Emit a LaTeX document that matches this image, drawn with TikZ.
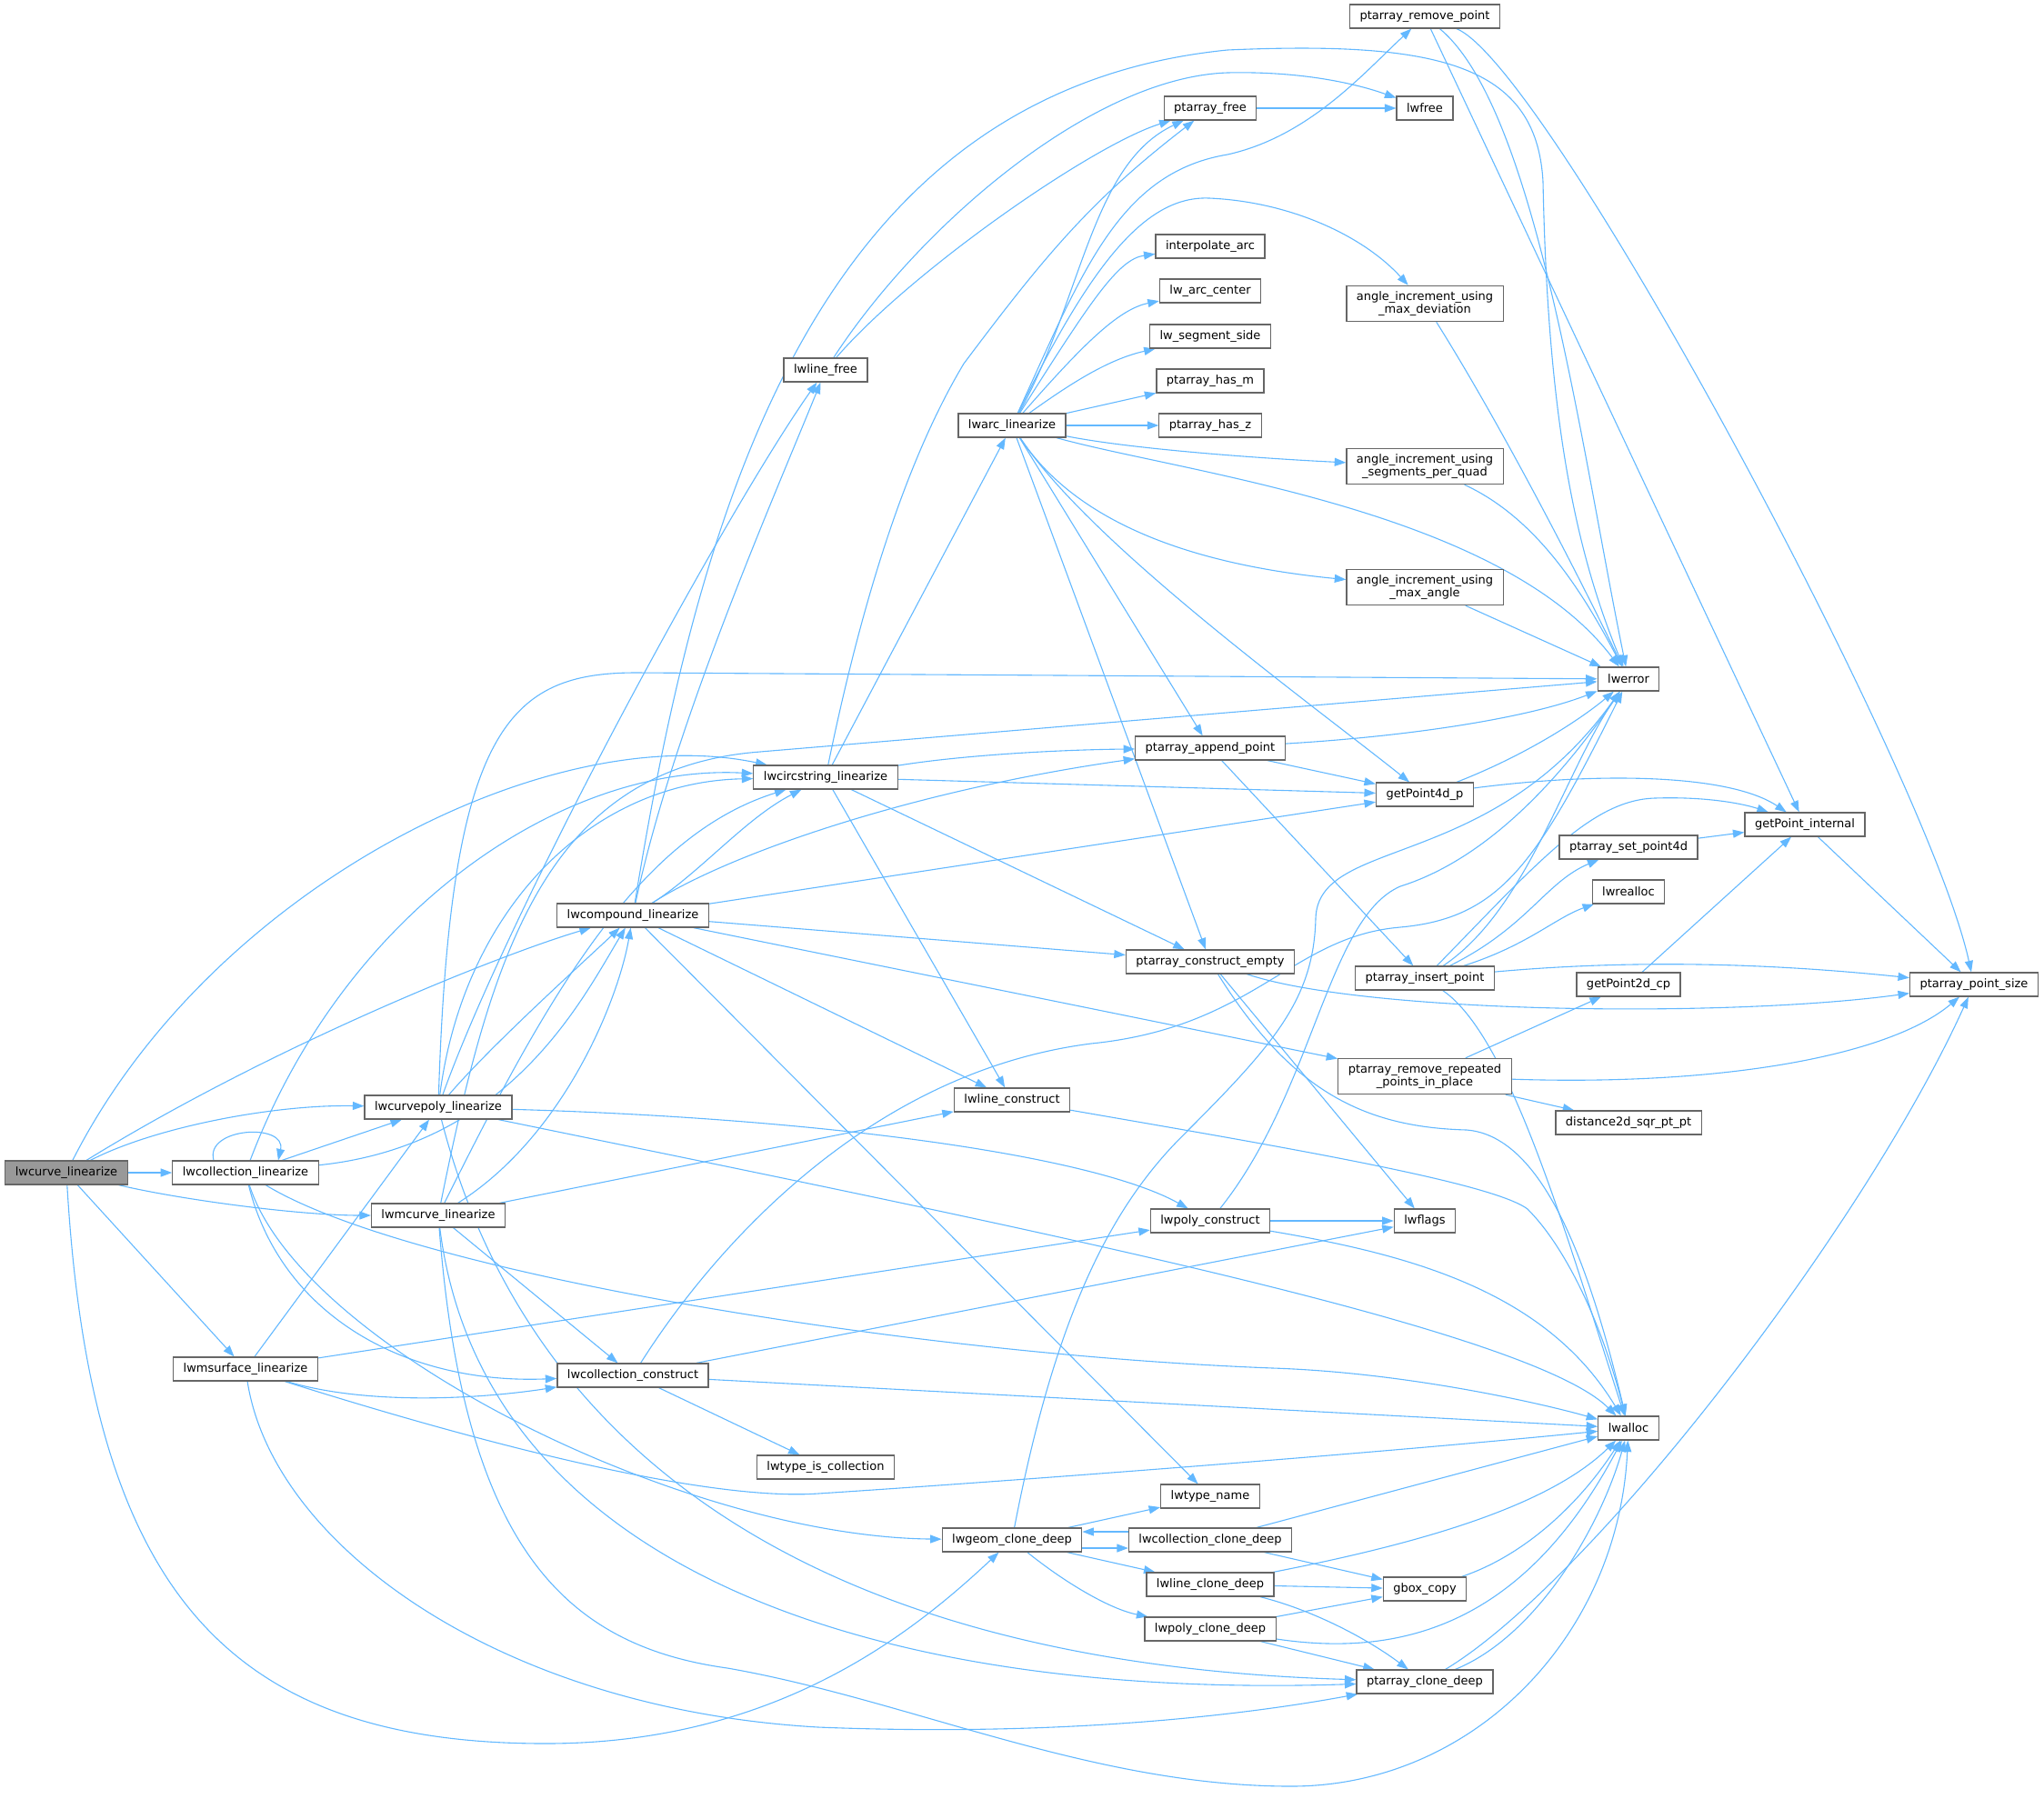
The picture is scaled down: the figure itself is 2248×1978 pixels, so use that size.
\documentclass[tikz,border=0pt]{standalone}
\usepackage{fontspec}
\setmainfont{DejaVu Sans}
\usetikzlibrary{arrows.meta, backgrounds}
\definecolor{edgeblue}{HTML}{63B8FF}
\definecolor{boxgray}{HTML}{666666}
\definecolor{rootgray}{HTML}{999999}

\begin{document}
\begin{tikzpicture}[
    x=1pt, y=-1pt,
    fn/.style={rectangle, draw=boxgray, fill=white, line width=1.2pt, minimum height=26pt, inner xsep=11pt, inner ysep=6pt, align=center, font=\fontsize{13pt}{14.3pt}\selectfont},
    rootfn/.style={fn, fill=rootgray},
    call/.style={draw=edgeblue, line width=1.1pt, -{Triangle[length=12.5pt, width=9pt]}}
]
\useasboundingbox (0,0) rectangle (2248,1978);

% --- NODES ---
\node (curve) [rootfn] at (73,1290) {lwcurve\_linearize};
\node (coll) [fn] at (270,1290) {lwcollection\_linearize};
\node (msurf) [fn] at (270,1506) {lwmsurface\_linearize};
\node (curvepoly) [fn] at (482,1218) {lwcurvepoly\_linearize};
\node (mcurve) [fn] at (482,1337) {lwmcurve\_linearize};
\node (compound) [fn] at (696,1007) {lwcompound\_linearize};
\node (collcons) [fn] at (696,1513) {lwcollection\_construct};
\node (linefree) [fn] at (908,407) {lwline\_free};
\node (circ) [fn] at (908,855) {lwcircstring\_linearize};
\node (typeiscoll) [fn] at (908,1614) {lwtype\_is\_collection};
\node (arc) [fn] at (1113,468) {lwarc\_linearize};
\node (linecons) [fn] at (1113,1210) {lwline\_construct};
\node (clonedeep) [fn] at (1113,1694) {lwgeom\_clone\_deep};
\node (ptfree) [fn] at (1331,119) {ptarray\_free};
\node (interp) [fn] at (1331,271) {interpolate\_arc};
\node (arccenter) [fn] at (1331,320) {lw\_arc\_center};
\node (segside) [fn] at (1331,370) {lw\_segment\_side};
\node (hasm) [fn] at (1331,419) {ptarray\_has\_m};
\node (hasz) [fn] at (1331,468) {ptarray\_has\_z};
\node (append) [fn] at (1331,823) {ptarray\_append\_point};
\node (consempty) [fn] at (1331,1058) {ptarray\_construct\_empty};
\node (polycons) [fn] at (1331,1343) {lwpoly\_construct};
\node (typename) [fn] at (1331,1646) {lwtype\_name};
\node (collclone) [fn] at (1331,1694) {lwcollection\_clone\_deep};
\node (lineclone) [fn] at (1331,1743) {lwline\_clone\_deep};
\node (polyclone) [fn] at (1331,1792) {lwpoly\_clone\_deep};
\node (rmpoint) [fn] at (1567,18) {ptarray\_remove\_point};
\node (lwfree) [fn] at (1567,119) {lwfree};
\node (aimaxdev) [fn] at (1567,334) {angle\_increment\_using\\\_max\_deviation};
\node (aisegs) [fn] at (1567,513) {angle\_increment\_using\\\_segments\_per\_quad};
\node (aimaxang) [fn] at (1567,646) {angle\_increment\_using\\\_max\_angle};
\node (get4d) [fn] at (1567,874) {getPoint4d\_p};
\node (insert) [fn] at (1567,1076) {ptarray\_insert\_point};
\node (rmrep) [fn] at (1567,1184) {ptarray\_remove\_repeated\\\_points\_in\_place};
\node (lwflags) [fn] at (1567,1343) {lwflags};
\node (gbox) [fn] at (1567,1748) {gbox\_copy};
\node (ptclone) [fn] at (1567,1850) {ptarray\_clone\_deep};
\node (lwerror) [fn] at (1791,747) {lwerror};
\node (setpt) [fn] at (1791,932) {ptarray\_set\_point4d};
\node (realloc) [fn] at (1791,981) {lwrealloc};
\node (get2d) [fn] at (1791,1083) {getPoint2d\_cp};
\node (dist) [fn] at (1791,1235) {distance2d\_sqr\_pt\_pt};
\node (lwalloc) [fn] at (1791,1571) {lwalloc};
\node (getint) [fn] at (1985,907) {getPoint\_internal};
\node (ptsize) [fn] at (2171,1083) {ptarray\_point\_size};

% --- CONNECTIONS ---
\begin{scope}[on background layer]
% lwcurve_linearize
\draw [call] (curve) .. controls (230,980) and (600,790) .. (circ);
\draw [call] (curve) .. controls (300,1150) and (550,1050) .. (compound);
\draw [call] (curve) .. controls (170,1240) and (300,1215) .. (curvepoly);
\draw [call] (curve) -- (coll);
\draw [call] (curve) .. controls (200,1320) and (330,1337) .. (mcurve);
\draw [call] (curve) -- (msurf);
\draw [call] (curve) .. controls (100,1750) and (250,1918) .. (600,1918) .. controls (850,1918) and (1000,1800) .. (clonedeep);

% lwcollection_linearize
\draw [call] ([xshift=-35pt]coll.north) .. controls (225,1240) and (315,1235) .. ([xshift=36pt]coll.north);
\draw [call] (coll) -- (curvepoly);
\draw [call] (coll) .. controls (380,1000) and (620,840) .. (circ);
\draw [call] (coll) .. controls (560,1260) and (640,1100) .. (compound);
\draw [call] (coll) .. controls (310,1450) and (450,1523) .. (collcons);
\draw [call] (coll) .. controls (450,1400) and (1000,1490) .. (1400,1505) .. controls (1550,1510) and (1700,1545) .. (lwalloc);
\draw [call] (coll) .. controls (330,1480) and (750,1690) .. (clonedeep);

% lwcurvepoly_linearize
\draw [call] (curvepoly) .. controls (510,1000) and (650,860) .. (circ);
\draw [call] (curvepoly) .. controls (540,1150) and (640,1060) .. (compound);
\draw [call] (curvepoly) .. controls (560,1000) and (800,560) .. (linefree);
\draw [call] (curvepoly) .. controls (495,800) and (560,740) .. (700,740) -- (lwerror);
\draw [call] (curvepoly) .. controls (900,1230) and (1200,1270) .. (polycons);
\draw [call] (curvepoly) .. controls (1100,1345) and (1680,1460) .. (lwalloc);
\draw [call] (curvepoly) .. controls (580,1600) and (900,1830) .. (ptclone);

% lwmcurve_linearize
\draw [call] (mcurve) .. controls (600,1100) and (700,920) .. (circ);
\draw [call] (mcurve) .. controls (620,1250) and (680,1100) .. (compound);
\draw [call] (mcurve) -- (linecons);
\draw [call] (mcurve) .. controls (540,1050) and (600,845) .. (836,827) -- (lwerror);
\draw [call] (mcurve) -- (collcons);
\draw [call] (mcurve) .. controls (530,1720) and (950,1870) .. (ptclone);
\draw [call] (mcurve) .. controls (510,1700) and (620,1810) .. (800,1835) .. controls (1000,1870) and (1200,1965) .. (1420,1965) .. controls (1620,1965) and (1780,1800) .. (lwalloc);

% lwmsurface_linearize
\draw [call] (msurf) -- (curvepoly);
\draw [call] (msurf) -- (polycons);
\draw [call] (msurf) .. controls (400,1545) and (520,1540) .. (collcons);
\draw [call] (msurf) .. controls (600,1610) and (800,1650) .. (900,1643) .. controls (1100,1630) and (1500,1600) .. (lwalloc);
\draw [call] (msurf) .. controls (300,1700) and (550,1880) .. (900,1900) .. controls (1150,1910) and (1350,1890) .. (ptclone);

% lwcompound_linearize
\draw [call] (compound) .. controls (770,960) and (820,900) .. (circ);
\draw [call] (compound) .. controls (740,800) and (850,550) .. (linefree);
\draw [call] (compound) .. controls (770,550) and (900,100) .. (1350,55) .. controls (1580,45) and (1690,70) .. (1697,200) .. controls (1702,450) and (1730,600) .. (lwerror);
\draw [call] (compound) .. controls (800,940) and (1000,870) .. (append);
\draw [call] (compound) -- (get4d);
\draw [call] (compound) -- (consempty);
\draw [call] (compound) -- (rmrep);
\draw [call] (compound) -- (linecons);
\draw [call] (compound) -- (typename);

% lwcircstring_linearize
\draw [call] (circ) -- (arc);
\draw [call] (circ) .. controls (950,650) and (1000,500) .. (1060,400) .. controls (1150,280) and (1200,220) .. (ptfree);
\draw [call] (circ) .. controls (1050,832) and (1150,825) .. (append);
\draw [call] (circ) -- (get4d);
\draw [call] (circ) -- (consempty);
\draw [call] (circ) -- (linecons);

% lwline_free
\draw [call] (linefree) .. controls (1000,300) and (1200,160) .. (ptfree);
\draw [call] (linefree) .. controls (1010,250) and (1200,85) .. (1350,80) .. controls (1440,78) and (1500,95) .. (lwfree);

% lwarc_linearize
\draw [call] (arc) .. controls (1190,330) and (1200,180) .. (ptfree);
\draw [call] (arc) .. controls (1190,300) and (1230,190) .. (1350,170) .. controls (1440,150) and (1500,80) .. (rmpoint);
\draw [call] (arc) .. controls (1200,290) and (1260,215) .. (1330,218) .. controls (1420,222) and (1500,260) .. (aimaxdev);
\draw [call] (arc) .. controls (1200,330) and (1230,285) .. (interp);
\draw [call] (arc) .. controls (1190,380) and (1230,340) .. (arccenter);
\draw [call] (arc) .. controls (1180,420) and (1220,395) .. (segside);
\draw [call] (arc) -- (hasm);
\draw [call] (arc) -- (hasz);
\draw [call] (arc) .. controls (1250,495) and (1400,505) .. (aisegs);
\draw [call] (arc) .. controls (1180,570) and (1300,620) .. (aimaxang);
\draw [call] (arc) .. controls (1300,520) and (1650,560) .. (lwerror);
\draw [call] (arc) .. controls (1200,600) and (1450,780) .. (get4d);
\draw [call] (arc) -- (append);
\draw [call] (arc) -- (consempty);

% point array helpers
\draw [call] (append) .. controls (1550,810) and (1680,790) .. (lwerror);
\draw [call] (append) -- (get4d);
\draw [call] (append) -- (insert);
\draw [call] (get4d) .. controls (1680,830) and (1740,790) .. (lwerror);
\draw [call] (get4d) .. controls (1750,850) and (1900,850) .. (getint);
\draw [call] (insert) .. controls (1680,1000) and (1720,850) .. (lwerror);
\draw [call] (insert) .. controls (1680,1020) and (1700,970) .. (setpt);
\draw [call] (insert) .. controls (1680,1040) and (1710,1010) .. (realloc);
\draw [call] (insert) .. controls (1690,950) and (1750,880) .. (1820,878) .. controls (1880,876) and (1920,885) .. (getint);
\draw [call] (insert) .. controls (1800,1055) and (1950,1060) .. (ptsize);
\draw [call] (insert) .. controls (1660,1140) and (1720,1350) .. (lwalloc);
\draw [call] (setpt) -- (getint);
\draw [call] (get2d) -- (getint);
\draw [call] (getint) -- (ptsize);
\draw [call] (rmpoint) .. controls (1690,120) and (1740,500) .. (lwerror);
\draw [call] (rmpoint) -- (getint);
\draw [call] (rmpoint) .. controls (1700,70) and (2120,850) .. (ptsize);
\draw [call] (consempty) .. controls (1420,1200) and (1500,1240) .. (1613,1243) .. controls (1700,1250) and (1750,1400) .. (lwalloc);
\draw [call] (consempty) -- (lwflags);
\draw [call] (consempty) .. controls (1500,1115) and (1900,1120) .. (ptsize);
\draw [call] (rmrep) -- (get2d);
\draw [call] (rmrep) -- (dist);
\draw [call] (rmrep) .. controls (1900,1195) and (2080,1160) .. (ptsize);
\draw [call] (ptfree) -- (lwfree);
\draw [call] (aimaxdev) .. controls (1640,450) and (1720,600) .. (lwerror);
\draw [call] (aisegs) .. controls (1690,570) and (1740,650) .. (lwerror);
\draw [call] (aimaxang) -- (lwerror);

% constructors
\draw [call] (linecons) .. controls (1400,1260) and (1640,1300) .. (1680,1330) .. controls (1720,1370) and (1760,1450) .. (lwalloc);
\draw [call] (polycons) -- (lwflags);
\draw [call] (polycons) .. controls (1550,1380) and (1700,1420) .. (lwalloc);
\draw [call] (polycons) .. controls (1445,1200) and (1460,1010) .. (1540,975) .. controls (1620,950) and (1700,880) .. (lwerror);
\draw [call] (collcons) -- (lwflags);
\draw [call] (collcons) -- (typeiscoll);
\draw [call] (collcons) -- (lwalloc);
\draw [call] (collcons) .. controls (780,1380) and (950,1180) .. (1200,1148) .. controls (1380,1130) and (1420,1030) .. (1540,1020) .. controls (1650,1010) and (1690,950) .. (lwerror);

% clone functions
\draw [call] (clonedeep) -- (typename);
\draw [call] ([yshift=-9pt]clonedeep.east) -- ([yshift=-9pt]collclone.west);
\draw [call] ([yshift=9pt]collclone.west) -- ([yshift=9pt]clonedeep.east);
\draw [call] (clonedeep) -- (lineclone);
\draw [call] (clonedeep) .. controls (1170,1740) and (1220,1770) .. (polyclone);
\draw [call] (clonedeep) .. controls (1160,1450) and (1220,1330) .. (1300,1250) .. controls (1400,1150) and (1445,1100) .. (1447,1010) .. controls (1450,920) and (1640,960) .. (lwerror);
\draw [call] (collclone) -- (lwalloc);
\draw [call] (collclone) -- (gbox);
\draw [call] (lineclone) .. controls (1550,1700) and (1700,1660) .. (lwalloc);
\draw [call] (lineclone) -- (gbox);
\draw [call] (lineclone) .. controls (1440,1770) and (1500,1800) .. (ptclone);
\draw [call] (polyclone) -- (gbox);
\draw [call] (polyclone) .. controls (1550,1825) and (1680,1780) .. (lwalloc);
\draw [call] (polyclone) -- (ptclone);
\draw [call] (gbox) .. controls (1680,1710) and (1740,1650) .. (lwalloc);
\draw [call] (ptclone) .. controls (1690,1800) and (1760,1680) .. (lwalloc);
\draw [call] (ptclone) .. controls (1750,1740) and (2050,1350) .. (ptsize);
\end{scope}

\end{tikzpicture}
\end{document}
